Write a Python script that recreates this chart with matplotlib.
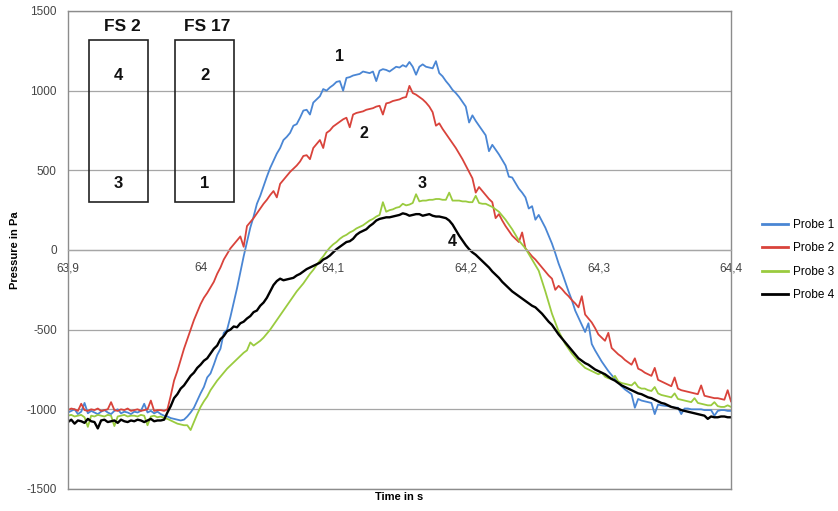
import matplotlib
matplotlib.use("Agg")
import matplotlib.pyplot as plt
from matplotlib.patches import Rectangle
from matplotlib.lines import Line2D

plt.rcParams['font.family'] = ['Liberation Sans', 'DejaVu Sans']
plt.rcParams['axes.unicode_minus'] = False

# sample times (s), one row per 0.05 s
time = [
    63.9000, 63.9025, 63.9050, 63.9075, 63.9100, 63.9125, 63.9150, 63.9175, 63.9200, 63.9225,
    63.9250, 63.9275, 63.9300, 63.9325, 63.9350, 63.9375, 63.9400, 63.9425, 63.9450, 63.9475,
    63.9500, 63.9525, 63.9550, 63.9575, 63.9600, 63.9625, 63.9650, 63.9675, 63.9700, 63.9725,
    63.9750, 63.9775, 63.9800, 63.9825, 63.9850, 63.9875, 63.9900, 63.9925, 63.9950, 63.9975,
    64.0000, 64.0025, 64.0050, 64.0075, 64.0100, 64.0125, 64.0150, 64.0175, 64.0200, 64.0225,
    64.0250, 64.0275, 64.0300, 64.0325, 64.0350, 64.0375, 64.0400, 64.0425, 64.0450, 64.0475,
    64.0500, 64.0525, 64.0550, 64.0575, 64.0600, 64.0625, 64.0650, 64.0675, 64.0700, 64.0725,
    64.0750, 64.0775, 64.0800, 64.0825, 64.0850, 64.0875, 64.0900, 64.0925, 64.0950, 64.0975,
    64.1000, 64.1025, 64.1050, 64.1075, 64.1100, 64.1125, 64.1150, 64.1175, 64.1200, 64.1225,
    64.1250, 64.1275, 64.1300, 64.1325, 64.1350, 64.1375, 64.1400, 64.1425, 64.1450, 64.1475,
    64.1500, 64.1525, 64.1550, 64.1575, 64.1600, 64.1625, 64.1650, 64.1675, 64.1700, 64.1725,
    64.1750, 64.1775, 64.1800, 64.1825, 64.1850, 64.1875, 64.1900, 64.1925, 64.1950, 64.1975,
    64.2000, 64.2025, 64.2050, 64.2075, 64.2100, 64.2125, 64.2150, 64.2175, 64.2200, 64.2225,
    64.2250, 64.2275, 64.2300, 64.2325, 64.2350, 64.2375, 64.2400, 64.2425, 64.2450, 64.2475,
    64.2500, 64.2525, 64.2550, 64.2575, 64.2600, 64.2625, 64.2650, 64.2675, 64.2700, 64.2725,
    64.2750, 64.2775, 64.2800, 64.2825, 64.2850, 64.2875, 64.2900, 64.2925, 64.2950, 64.2975,
    64.3000, 64.3025, 64.3050, 64.3075, 64.3100, 64.3125, 64.3150, 64.3175, 64.3200, 64.3225,
    64.3250, 64.3275, 64.3300, 64.3325, 64.3350, 64.3375, 64.3400, 64.3425, 64.3450, 64.3475,
    64.3500, 64.3525, 64.3550, 64.3575, 64.3600, 64.3625, 64.3650, 64.3675, 64.3700, 64.3725,
    64.3750, 64.3775, 64.3800, 64.3825, 64.3850, 64.3875, 64.3900, 64.3925, 64.3950, 64.3975,
    64.4000,
]

probe1 = [
    -1020, -1010, -1000, -1030, -1015, -960, -1025, -1010, -1020, -1030,
    -1015, -1005, -1020, -1030, -1010, -1000, -1025, -1015, -1020, -1030,
    -1015, -1020, -1010, -965, -1020, -1010, -1025, -1015, -1030, -1040,
    -1045, -1055, -1060, -1065, -1070, -1065, -1045, -1020, -990, -945,
    -900, -860, -800, -775, -720, -660, -620, -520, -500, -420,
    -330, -240, -140, -40, 50, 140, 210, 290, 340, 400,
    460, 515, 560, 605, 640, 690, 710, 735, 780, 790,
    830, 875, 880, 850, 925, 945, 965, 1010, 1000, 1020,
    1035, 1055, 1060, 1000, 1080, 1085, 1095, 1100, 1105, 1120,
    1115, 1110, 1120, 1060, 1125, 1135, 1130, 1120, 1135, 1150,
    1145, 1160, 1150, 1180, 1150, 1100, 1150, 1165, 1150, 1145,
    1140, 1185, 1110, 1090, 1060, 1035, 1005, 985, 960, 930,
    900, 800, 845, 810, 780, 750, 720, 620, 660, 630,
    600, 565, 530, 460, 455, 420, 385, 360, 330, 260,
    275, 190, 220, 180, 140, 90, 40, -20, -85, -140,
    -200, -260, -315, -380, -425, -470, -515, -460, -590, -630,
    -665, -700, -730, -760, -785, -810, -830, -855, -875, -890,
    -905, -990, -935, -945, -950, -955, -960, -1030, -970, -975,
    -978, -980, -985, -990, -990, -1030, -995, -995, -1000, -1000,
    -1000, -1000, -1005, -1005, -1005, -1040, -1010, -1005, -1005, -1010,
    -1010,
]

probe2 = [
    -1005, -995, -1000, -1010, -965, -1005, -1010, -1000, -1005, -995,
    -1010, -1005, -1000, -955, -1005, -1010, -1000, -1005, -995, -1010,
    -1005, -1000, -1010, -1005, -1000, -945, -1010, -1005, -1005, -1010,
    -1000, -915, -820, -760, -690, -620, -560, -500, -440, -390,
    -340, -300, -270, -235, -200, -150, -110, -60, -25, 10,
    35, 60, 85, 20, 150, 175, 200, 230, 260, 290,
    315, 345, 370, 330, 415, 440, 465, 490, 510, 530,
    555, 590, 595, 570, 640, 665, 690, 640, 735, 750,
    775, 790, 805, 820, 830, 770, 850, 860, 865, 870,
    880, 885, 890, 900, 905, 850, 920, 925, 935, 940,
    945, 955, 960, 1030, 985, 975, 960, 945, 925, 900,
    865, 780, 795, 760, 730, 700, 670, 640, 605, 570,
    530, 490, 450, 360, 395, 370, 345, 320, 300, 200,
    225, 185, 150, 120, 90, 70, 50, 110, 10, -15,
    -40, -60, -85, -110, -135, -160, -180, -250, -225, -245,
    -270, -290, -315, -335, -360, -290, -405, -430, -455, -490,
    -530, -550, -570, -520, -615, -635, -655, -670, -690, -705,
    -720, -680, -745, -755, -770, -780, -790, -740, -815, -825,
    -835, -845, -855, -800, -870, -880, -885, -890, -895, -900,
    -905, -850, -915, -920, -925, -930, -930, -935, -940, -880,
    -950,
]

probe3 = [
    -1040, -1035, -1045, -1040, -1035, -1050, -1110, -1040, -1045, -1035,
    -1040, -1045, -1035, -1040, -1105, -1045, -1040, -1035, -1045, -1040,
    -1040, -1045, -1035, -1040, -1100, -1045, -1040, -1050, -1045, -1055,
    -1060, -1070, -1080, -1090, -1095, -1100, -1100, -1130, -1080, -1030,
    -985, -950, -920, -880, -850, -820, -795, -770, -745, -725,
    -705, -685, -665, -645, -630, -580, -600, -585, -570, -550,
    -525, -500, -470, -440, -410, -380, -350, -320, -290, -260,
    -235, -210, -180, -150, -125, -95, -65, -40, -10, 15,
    35, 50, 70, 85, 95, 110, 120, 135, 145, 155,
    170, 185, 195, 210, 220, 300, 240, 250, 255, 265,
    270, 290, 280, 285, 295, 350, 305, 310, 310, 315,
    315, 320, 320, 315, 315, 360, 310, 310, 310, 305,
    305, 300, 300, 340, 295, 290, 290, 280, 270, 255,
    240, 215, 190, 160, 130, 95, 60, 35, 10, -25,
    -60, -95, -130, -195, -260, -330, -400, -455, -510, -550,
    -590, -620, -650, -675, -700, -720, -740, -750, -760, -770,
    -780, -770, -795, -805, -810, -790, -825, -835, -840, -845,
    -850, -830, -860, -870, -870, -880, -885, -860, -900, -910,
    -915, -920, -925, -900, -935, -940, -945, -950, -955, -930,
    -960, -965, -970, -975, -975, -955, -980, -985, -985, -975,
    -985,
]

probe4 = [
    -1080, -1065, -1090, -1070, -1075, -1085, -1060, -1075, -1080, -1120,
    -1070, -1065, -1080, -1075, -1070, -1085, -1065, -1075, -1080, -1070,
    -1075, -1065, -1070, -1080, -1070, -1060, -1075, -1070, -1070, -1065,
    -1020, -980, -930, -905, -870, -850, -820, -790, -770, -740,
    -720, -695, -680, -650, -620, -600, -560, -540, -510, -500,
    -480, -485, -460, -450, -430, -415, -390, -380, -350, -330,
    -300, -260, -220, -195, -180, -190, -185, -180, -175, -160,
    -150, -135, -120, -110, -100, -90, -80, -60, -50, -35,
    -15, 5, 20, 35, 50, 55, 70, 95, 110, 120,
    130, 150, 165, 185, 195, 200, 205, 205, 210, 215,
    220, 230, 225, 215, 220, 225, 225, 215, 220, 225,
    215, 210, 210, 205, 200, 185, 160, 125, 90, 60,
    30, 5, -15, -30, -50, -70, -90, -110, -135, -155,
    -175, -200, -220, -240, -260, -275, -290, -305, -320, -335,
    -350, -360, -380, -400, -425, -450, -470, -500, -530, -555,
    -580, -605, -630, -655, -680, -695, -710, -720, -735, -750,
    -760, -770, -780, -795, -810, -820, -835, -850, -860, -870,
    -880, -890, -900, -905, -915, -925, -930, -940, -950, -960,
    -965, -975, -985, -990, -995, -1005, -1010, -1015, -1020, -1025,
    -1030, -1035, -1040, -1060, -1045, -1050, -1050, -1045, -1045, -1050,
    -1050,
]

series_names = ["Probe 1", "Probe 2", "Probe 3", "Probe 4"]
series_colors = ["#4A86D4", "#D9433B", "#9ACB3F", "#000000"]
series_widths = [1.3, 1.3, 1.3, 1.7]

xticks = [63.9, 64.0, 64.1, 64.2, 64.3, 64.4]
xtick_labels = ["63,9", "64", "64,1", "64,2", "64,3", "64,4"]
yticks = [-1500, -1000, -500, 0, 500, 1000, 1500]

fig = plt.figure(figsize=(8.38, 5.11), dpi=100)
ax = fig.add_axes([0.0811, 0.0431, 0.7912, 0.9354])

gray = "#8c8c8c"
for y in yticks:
    ax.axhline(y, color="#a6a6a6", lw=0.9, zorder=0)

for vals, name, col, lw in zip([probe1, probe2, probe3, probe4], series_names,
                               series_colors, series_widths):
    ax.plot(time, vals, color=col, lw=lw, label=name, zorder=2)

ax.set_xlim(63.9, 64.4)
ax.set_ylim(-1500, 1500)

for s in ["top", "left", "right"]:
    ax.spines[s].set_color(gray)
    ax.spines[s].set_linewidth(1.0)
ax.spines["bottom"].set_position(("data", 0))
ax.spines["bottom"].set_color("#a6a6a6")
ax.spines["bottom"].set_linewidth(0.9)
ax.add_line(Line2D([0, 1], [0, 0], transform=ax.transAxes, color=gray, lw=1.0, clip_on=False))

ax.set_xticks(xticks)
ax.set_xticklabels(xtick_labels)
ax.set_yticks(yticks)
ax.tick_params(axis="both", length=0, labelsize=8.5, colors="#444444")
ax.tick_params(axis="x", pad=9)
ax.tick_params(axis="y", pad=8)

ax.text(0.5, -0.006, "Time in s", transform=ax.transAxes, ha="center", va="top",
        fontsize=8, fontweight="bold")
fig.text(0.018, 0.511, "Pressure in Pa", rotation=90, ha="center", va="center",
         fontsize=8, fontweight="bold")

# sensor layout boxes
ax.add_patch(Rectangle((63.9158, 301), 0.0445, 1019, fill=False, ec="#222222", lw=1.2, zorder=3))
ax.add_patch(Rectangle((63.9810, 301), 0.0442, 1019, fill=False, ec="#222222", lw=1.2, zorder=3))
bold = dict(fontweight="bold", ha="center", va="center", color="#111111")
ax.text(63.9407, 1400, "FS 2", fontsize=12.5, **bold)
ax.text(64.0048, 1400, "FS 17", fontsize=12.5, **bold)
ax.text(63.9377, 1097, "4", fontsize=12, **bold)
ax.text(63.9377, 420, "3", fontsize=12, **bold)
ax.text(64.0033, 1097, "2", fontsize=12, **bold)
ax.text(64.0033, 420, "1", fontsize=12, **bold)

# curve labels
ax.text(64.105, 1216, "1", fontsize=11.5, **bold)
ax.text(64.1235, 730, "2", fontsize=11.5, **bold)
ax.text(64.167, 418, "3", fontsize=11.5, **bold)
ax.text(64.1896, 52, "4", fontsize=11.5, **bold)

leg = fig.legend(loc="center left", bbox_to_anchor=(0.909, 0.491), frameon=False,
                 fontsize=8.5, handlelength=2.2, handletextpad=0.45, labelspacing=0.95,
                 borderpad=0, borderaxespad=0)
for h in leg.get_lines():
    h.set_linewidth(2.0)

fig.savefig("out.png", dpi=100)
